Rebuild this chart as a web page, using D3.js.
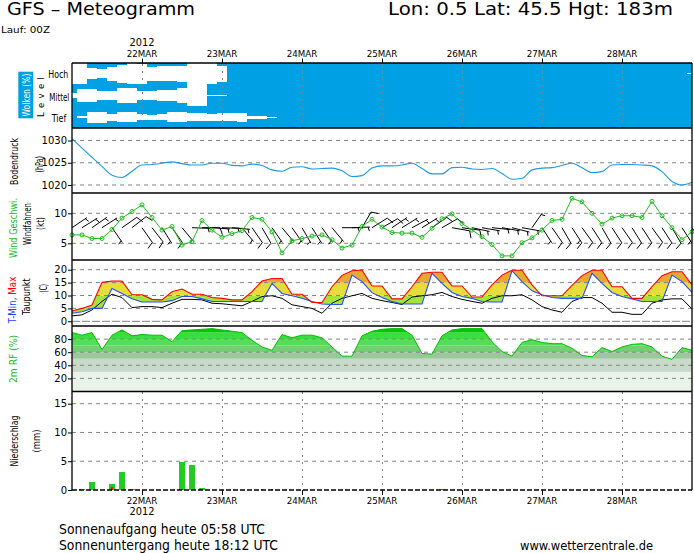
<!DOCTYPE html>
<html><head><meta charset="utf-8">
<script src="https://cdn.jsdelivr.net/npm/d3@7"></script>
<style>body{margin:0;background:#fff}svg{display:block}</style>
</head><body><svg id="c" width="694" height="553"></svg>
<script>
// ---------------- DATA ----------------
const hours = [3,6,9,12,15,18,21,24,27,30,33,36,39,42,45,48,51,54,57,60,63,66,69,72,75,78,81,84,87,90,93,96,99,102,105,108,111,114,117,120,123,126,129,132,135,138,141,144,147,150,153,156,159,162,165,168,171,174,177,180,183,186,189]; // hours after 21MAR 00Z
const dayTicks = [24,48,72,96,120,144,168];
const dayLabels = ["22MAR","23MAR","24MAR","25MAR","26MAR","27MAR","28MAR"];
const cloudLevels = ["Hoch","Mittel","Tief"];
const cloudHigh = [2,2,50,58,33,15,2,6,33,30,30,25,0,0,2,27,100,100,100,100,100,100,100,100,100,100,100,100,100,100,100,100,100,100,100,100,100,100,100,100,100,100,100,100,100,100,100,100,100,100,100,100,100,100,100,100,100,100,100,100,100,100,95];
const cloudMid = [77,38,38,57,62,34,31,54,57,51,48,34,2,5,94,97,100,100,100,100,100,100,100,100,100,100,100,100,100,100,100,100,100,100,100,100,100,100,100,100,100,100,100,100,100,100,100,100,100,100,100,100,100,100,100,100,100,100,100,100,100,100,100];
const cloudLow = [100,88,50,50,69,56,56,72,77,72,52,52,61,61,69,61,61,58,86,86,95,100,100,100,100,100,100,100,100,100,100,100,100,100,100,100,100,100,100,100,100,100,100,100,100,100,100,100,100,100,100,100,100,100,100,100,100,100,100,100,100,100,100];
const pressure = [1030.4,1028.3,1026.2,1024.2,1022.2,1021.7,1023.1,1024.5,1024.6,1024.9,1025.2,1024.8,1024.5,1024.5,1024.9,1024.9,1024.4,1024.3,1024.7,1024.4,1023.4,1023.1,1024.0,1024.1,1023.6,1023.7,1023.8,1023.2,1021.9,1022.1,1023.8,1024.3,1024.3,1024.5,1024.9,1023.7,1022.5,1022.5,1023.9,1024.0,1023.6,1023.5,1023.7,1022.6,1021.3,1021.5,1023.4,1023.8,1023.9,1024.4,1024.9,1023.9,1022.8,1023.0,1024.5,1024.6,1024.6,1024.5,1024.3,1023.0,1020.8,1020.0,1020.6];
const windSpeed = [6.4,6.4,5.8,5.8,7.3,9.2,10.3,11.4,9.3,7.2,7.8,4.7,5.3,8.8,7.2,6.0,6.6,7.1,9.3,9.0,6.9,3.4,5.4,5.8,6.2,6.4,5.6,4.2,4.7,7.8,9.0,7.7,6.8,6.7,6.7,6.0,7.5,9.1,9.9,8.3,7.2,6.1,4.8,2.9,2.9,5.1,5.9,7.2,8.8,9.0,12.5,11.9,10.0,8.2,9.2,9.6,9.6,9.3,12.0,9.6,7.6,5.6,6.9];
const windDir = [56,58,55,57,145,55,52,145,142,148,145,140,92,90,94,92,95,140,145,150,145,140,145,150,148,145,140,90,88,30,58,60,56,58,62,58,55,60,100,98,102,100,96,100,104,100,35,147,145,150,147,144,147,150,147,145,148,147,144,147,150,147,145];
const tMax = [4.0,5.0,6.3,15.1,15.6,15.6,10.3,10.3,8.5,8.3,11.5,12.5,10.5,10.5,9.2,8.9,8.3,8.3,11.5,15.6,16.6,16.6,10.5,10.5,7.3,7.3,13.4,17.8,19.6,19.9,13.7,13.7,8.7,8.7,13.4,18.6,19.0,19.0,13.7,13.7,9.4,9.4,14.1,17.9,19.8,19.8,14.1,9.9,9.9,9.9,13.9,17.7,19.8,19.8,13.4,13.4,8.9,8.9,13.4,17.7,19.2,19.2,14.1];
const tMin = [3.1,3.7,5.0,5.0,12.7,10.8,8.7,7.5,7.5,7.5,8.0,9.6,9.6,8.7,7.7,7.7,7.7,7.7,7.7,7.7,14.7,10.8,9.9,8.9,7.7,6.7,6.5,6.5,17.9,15.4,11.1,9.2,7.7,6.7,6.7,6.7,18.6,14.7,11.2,9.6,8.9,7.7,7.5,7.5,19.6,15.4,11.8,10.3,9.2,8.9,8.9,8.9,18.6,14.7,11.2,9.6,8.7,7.7,7.7,7.7,17.9,15.4,11.2];
const dewPoint = [2.1,2.5,4.4,7.7,10.5,9.2,5.3,5.7,5.7,5.3,7.0,8.5,8.5,8.3,7.0,6.8,6.4,6.0,7.7,9.6,9.9,8.9,6.4,5.7,5.0,3.1,7.0,8.9,9.9,10.8,8.9,8.0,7.3,6.5,9.4,9.9,10.3,11.2,9.6,8.5,7.7,7.0,8.9,9.9,9.9,10.3,8.3,5.7,4.4,3.5,7.7,9.2,9.2,7.0,3.5,3.5,2.7,2.7,7.0,8.3,8.7,8.7,4.8];
const relHum = [90,86,90,64,86,94,85,87,86,86,76,93,94,95,96,94,92,90,78,68,63,87,82,86,86,82,68,54,54,85,92,95,96,96,86,58,57,85,94,96,96,96,76,61,54,75,79,75,73,73,66,55,53,67,61,68,72,73,68,54,49,67,63];
const precipTotal = [0,0.2,1.45,0,1.1,3.2,0.2,0,0,0,0,4.9,4.4,0.4,0,0,0,0,0,0,0,0,0,0,0,0,0,0,0,0,0,0,0,0,0,0,0,0.2,0,0,0,0,0,0,0,0,0,0,0,0,0,0,0,0,0,0,0,0,0,0,0,0,0];
const precipConv = [0,0,0,0,0.5,0,0,0,0,0,0,0.1,0,0,0,0,0,0,0,0.15,0.15,0,0,0,0,0,0,0,0,0,0,0,0,0,0,0,0,0.15,0,0,0,0,0,0,0,0,0,0,0,0,0,0,0,0,0,0,0,0,0,0,0,0,0];
const pressTicks = [1020,1025,1030];
const windTicks = [5,10];
const tempTicks = [0,5,10,15,20];
const rhTicks = [20,40,60,80];
const precTicks = [0,5,10,15];

// ---------------- LAYOUT ----------------
const svg = d3.select('#c');
const F = '"DejaVu Sans", Verdana, sans-serif';
const X0 = 72, X1 = 692;
const BLUE = '#00a0e4';
const GRID = '#858585';
const x = d3.scaleLinear().domain([3,189]).range([X0,X1]);
const yC = d3.scaleBand().domain(cloudLevels).range([63,128]);
const yP = d3.scaleLinear().domain([1020,1030]).range([185,140.5]);
const yW = d3.scaleLinear().domain([5,10]).range([243.3,213.3]);
const yT = d3.scaleLinear().domain([0,20]).range([321.3,269.7]);
const yR = d3.scaleLinear().domain([0,100]).range([391.5,326]);
const yN = d3.scaleLinear().domain([0,15]).range([490,403.7]);
const panels = [[63,128],[128,193],[193,260],[260,326],[326,391.5],[391.5,490]];
const defs = svg.append('defs');

function txt(px,py,s,o={}){
  const t = svg.append('text').attr('x',px).attr('y',py).text(s)
    .attr('font-family',o.ff||F).attr('font-size',o.fs||10).attr('fill',o.fill||'#000');
  if(o.anchor) t.attr('text-anchor',o.anchor);
  if(o.len) t.attr('textLength',o.len).attr('lengthAdjust','spacingAndGlyphs');
  return t;
}
function vtxt(cx,cy,parts,len,fs,adj){
  const t = svg.append('text').attr('transform',`translate(${cx},${cy}) rotate(-90)`)
    .attr('text-anchor','middle').attr('dominant-baseline','central')
    .attr('font-family',F).attr('font-size',fs||10.5)
    .attr('textLength',len).attr('lengthAdjust',adj||'spacingAndGlyphs');
  parts.forEach(p=>t.append('tspan').attr('fill',p[1]).text(p[0]));
  return t;
}
function hgrid(scale,vals,dash){
  svg.append('g').selectAll('line').data(vals).join('line')
    .attr('x1',X0).attr('x2',X1).attr('y1',d=>scale(d)).attr('y2',d=>scale(d))
    .attr('stroke',GRID).attr('stroke-width',1).attr('stroke-dasharray',dash||'4,4');
}
function vgrid(y0,y1){
  svg.append('g').selectAll('line').data(dayTicks).join('line')
    .attr('x1',d=>Math.round(x(d))+0.5).attr('x2',d=>Math.round(x(d))+0.5).attr('y1',y0).attr('y2',y1)
    .attr('stroke',GRID).attr('stroke-width',1).attr('stroke-dasharray','2,5');
}
function leftAxis(scale,vals){
  const g = svg.append('g').attr('transform',`translate(${X0},0)`)
    .call(d3.axisLeft(scale).tickValues(vals).tickSize(4).tickPadding(1).tickFormat(d3.format('d')));
  g.select('.domain').remove();
  g.selectAll('line').attr('stroke','#000');
  g.selectAll('text').attr('font-family',F).attr('font-size',10).attr('fill','#000');
  g.attr('font-family',null).attr('font-size',null);
}

// ---------------- TITLES ----------------
txt(7,15,'GFS – Meteogramm',{fs:17,len:188});
txt(388,15,'Lon: 0.5 Lat: 45.5 Hgt: 183m',{fs:17,len:285});
txt(1,33,'Lauf: 00Z',{fs:9.5,len:49});

// top axis
svg.append('g').attr('transform',`translate(0,63)`)
  .call(d3.axisTop(x).tickValues(dayTicks).tickSize(4.5).tickFormat(''))
  .call(g=>{g.select('.domain').remove(); g.selectAll('line').attr('stroke','#000');});
dayTicks.forEach((d,i)=>txt(x(d),57.3,dayLabels[i],{fs:9.5,len:30.5,anchor:'middle'}));
txt(x(24),46,'2012',{fs:10,len:25,anchor:'middle'});

// ---------------- CLOUDS ----------------
svg.append('rect').attr('x',X0).attr('y',63).attr('width',X1-X0).attr('height',65).attr('fill',BLUE);
[[cloudLevels[0],cloudHigh],[cloudLevels[1],cloudMid],[cloudLevels[2],cloudLow]].forEach(([lev,arr])=>{
  const bw = yC.bandwidth(), c = yC(lev)+bw/2;
  svg.append('g').attr('shape-rendering','crispEdges').selectAll('rect').data(arr).join('rect')
    .attr('x',(d,i)=>Math.max(X0,x(hours[i]-1.5)))
    .attr('width',(d,i)=>Math.min(X1,x(hours[i]+1.5))-Math.max(X0,x(hours[i]-1.5)))
    .attr('y',d=>c-(100-d)/100*bw/2)
    .attr('height',d=>(100-d)/100*bw)
    .attr('fill','#fff');
});
vgrid(64,127);
svg.append('rect').attr('x',18.3).attr('y',71.7).attr('width',15).attr('height',46.6).attr('fill',BLUE);
vtxt(25.8,95,[['Wolken (%)','#fff']],43,10);
vtxt(41,97,[['Level','#000']],40,8.5,'spacing');
txt(48.3,78.3,'Hoch',{fs:11,len:20});
txt(49.3,100.7,'Mittel',{fs:11,len:20});
txt(51.7,121.7,'Tief',{fs:11,len:14.5});

// ---------------- PRESSURE ----------------
hgrid(yP,pressTicks);
svg.append('path').attr('d',d3.line().x((d,i)=>x(hours[i])).y(d=>yP(d)).curve(d3.curveMonotoneX)(pressure))
  .attr('fill','none').attr('stroke','#1e9be0').attr('stroke-width',1.1);
leftAxis(yP,pressTicks);
vtxt(14,161.5,[['Bodendruck','#000']],47,10.5);
vtxt(39,164.3,[['(hPa)','#000']],16.5,10.5);

// ---------------- WIND ----------------
hgrid(yW,windTicks);
const barbBase = yW(7.6);
const gB = svg.append('g').attr('stroke','#000').attr('stroke-width',1).attr('fill','none');
windDir.forEach((dir,i)=>{
  const L=18, r=dir*Math.PI/180, ux=Math.sin(r), uy=-Math.cos(r), px=-uy, py=ux;
  const bx=x(hours[i]), by=barbBase;
  let p=`M${bx},${by}L${bx+L*ux},${by+L*uy}`;
  const n=Math.round(windSpeed[i]/5), full=Math.floor(n/2), half=n%2;
  let pos=L;
  for(let k=0;k<full;k++){
    const qx=bx+pos*ux, qy=by+pos*uy;
    p+=`M${qx},${qy}l${7*(px+0.35*ux)},${7*(py+0.35*uy)}`; pos-=3;
  }
  if(half){ if(full===0) pos-=2; const qx=bx+pos*ux, qy=by+pos*uy;
    p+=`M${qx},${qy}l${4*(px+0.35*ux)},${4*(py+0.35*uy)}`; }
  gB.append('path').attr('d',p);
});
const wl = d3.line().x((d,i)=>x(hours[i])).y(d=>yW(d));
svg.append('path').attr('d',wl(windSpeed)).attr('fill','none').attr('stroke','#22bb22').attr('stroke-width',1);
svg.append('g').selectAll('circle').data(windSpeed).join('circle')
  .attr('cx',(d,i)=>x(hours[i])).attr('cy',d=>yW(d)).attr('r',2)
  .attr('fill','none').attr('stroke','#22bb22').attr('stroke-width',1);
leftAxis(yW,windTicks);
vtxt(12.5,228,[['Wind Geschwi.','#22bb22']],60,10.5);
vtxt(27,224,[['Windfahnen','#000']],42,10.5);
vtxt(39.5,223.5,[['(kt)','#000']],13,10.5);

// ---------------- TEMPERATURE ----------------
const tArea = d3.area().x((d,i)=>x(hours[i])).y0((d,i)=>yT(tMin[i])).y1((d,i)=>yT(tMax[i]));
defs.append('clipPath').attr('id','tclip').append('path').attr('d',tArea(hours));
const tBands = [[-5,10,'#a6e23c'],[10,15,'#e6dc3a'],[15,30,'#e8a832']];
svg.append('g').attr('clip-path','url(#tclip)').selectAll('rect').data(tBands).join('rect')
  .attr('x',X0).attr('width',X1-X0).attr('y',d=>yT(d[1])).attr('height',d=>yT(d[0])-yT(d[1])).attr('fill',d=>d[2]);
hgrid(yT,[5,10,15,20]);
hgrid(yT,[0],'8,2');
const tl = v=>d3.line().x((d,i)=>x(hours[i])).y(d=>yT(d))(v);
svg.append('path').attr('d',tl(dewPoint)).attr('fill','none').attr('stroke','#000').attr('stroke-width',1);
svg.append('path').attr('d',tl(tMin)).attr('fill','none').attr('stroke','#2050ff').attr('stroke-width',1.1);
svg.append('path').attr('d',tl(tMax)).attr('fill','none').attr('stroke','#ff0000').attr('stroke-width',1.1);
leftAxis(yT,tempTicks);
vtxt(11.7,300,[['T-Min, ','#2040ff'],['Max','#ff0000']],46.7,10.5);
vtxt(26,296.7,[['Taupunkt','#000']],36.7,10.5);
vtxt(43,288.3,[['(C)','#000']],8.5,10.5);

// ---------------- REL. HUMIDITY ----------------
const rhBg = [[0,30,'#e9f3e9'],[30,50,'#c9d9c9']];
svg.append('g').selectAll('rect').data(rhBg).join('rect')
  .attr('x',X0).attr('width',X1-X0).attr('y',d=>yR(d[1])).attr('height',d=>yR(d[0])-yR(d[1])).attr('fill',d=>d[2]);
const rArea = d3.area().x((d,i)=>x(hours[i])).y0(yR(0)).y1(d=>yR(d));
defs.append('clipPath').attr('id','rclip').append('path').attr('d',rArea(relHum));
const rhBands = [[50,60,'#9cc79c'],[60,70,'#72cf72'],[70,80,'#55de55'],[80,90,'#36e036'],[90,100,'#00c800']];
svg.append('g').attr('clip-path','url(#rclip)').selectAll('rect').data(rhBands).join('rect')
  .attr('x',X0).attr('width',X1-X0).attr('y',d=>yR(d[1])).attr('height',d=>yR(d[0])-yR(d[1])).attr('fill',d=>d[2]);
hgrid(yR,rhTicks);
svg.append('path').attr('d',d3.line().x((d,i)=>x(hours[i])).y(d=>yR(d))(relHum))
  .attr('fill','none').attr('stroke','#00c000').attr('stroke-width',1);
leftAxis(yR,rhTicks);
vtxt(12.8,359,[['2m RF (%)','#22bb22']],48,10.5);

// ---------------- PRECIPITATION ----------------
hgrid(yN,[5,10,15]);
vgrid(392,489);
svg.append('g').attr('shape-rendering','crispEdges').selectAll('rect').data(precipTotal).join('rect')
  .attr('x',(d,i)=>x(hours[i])-3).attr('width',6).attr('y',d=>yN(d)).attr('height',d=>yN(0)-yN(d)).attr('fill','#22cc22');
svg.append('g').attr('shape-rendering','crispEdges').selectAll('rect').data(precipConv).join('rect')
  .attr('x',(d,i)=>x(hours[i])-1).attr('width',2).attr('y',d=>yN(d)).attr('height',d=>yN(0)-yN(d)).attr('fill','#ff0000');
leftAxis(yN,precTicks);
vtxt(13.7,441,[['Niederschlag','#000']],51,10.5);
vtxt(36.3,441,[['(mm)','#000']],23,10.5);

// bottom axis
svg.append('g').attr('transform','translate(0,490)')
  .call(d3.axisBottom(x).tickValues(dayTicks).tickSize(5).tickFormat(''))
  .call(g=>{g.select('.domain').remove(); g.selectAll('line').attr('stroke','#000');});
dayTicks.forEach((d,i)=>txt(x(d),503.5,dayLabels[i],{fs:9.5,len:30.5,anchor:'middle'}));
txt(x(24),514.5,'2012',{fs:10,len:25,anchor:'middle'});

// ---------------- FRAME ----------------
const fr = svg.append('g').attr('stroke','#000').attr('stroke-width',1.3);
panels.forEach(p=>fr.append('line').attr('x1',X0).attr('x2',X1).attr('y1',p[0]).attr('y2',p[0]));
fr.append('line').attr('x1',X0).attr('x2',X0).attr('y1',63).attr('y2',490);
fr.append('line').attr('x1',X1).attr('x2',X1).attr('y1',63).attr('y2',490);
svg.append('line').attr('x1',X0).attr('x2',X1).attr('y1',490).attr('y2',490)
  .attr('stroke','#000').attr('stroke-width',1.3).attr('stroke-dasharray','5,2');

// ---------------- FOOTER ----------------
txt(59,533.5,'Sonnenaufgang heute 05:58 UTC',{fs:14,len:206});
txt(59,550,'Sonnenuntergang heute 18:12 UTC',{fs:14,len:219});
txt(520,549.5,'www.wetterzentrale.de',{fs:12.5,len:133});
</script></body></html>
